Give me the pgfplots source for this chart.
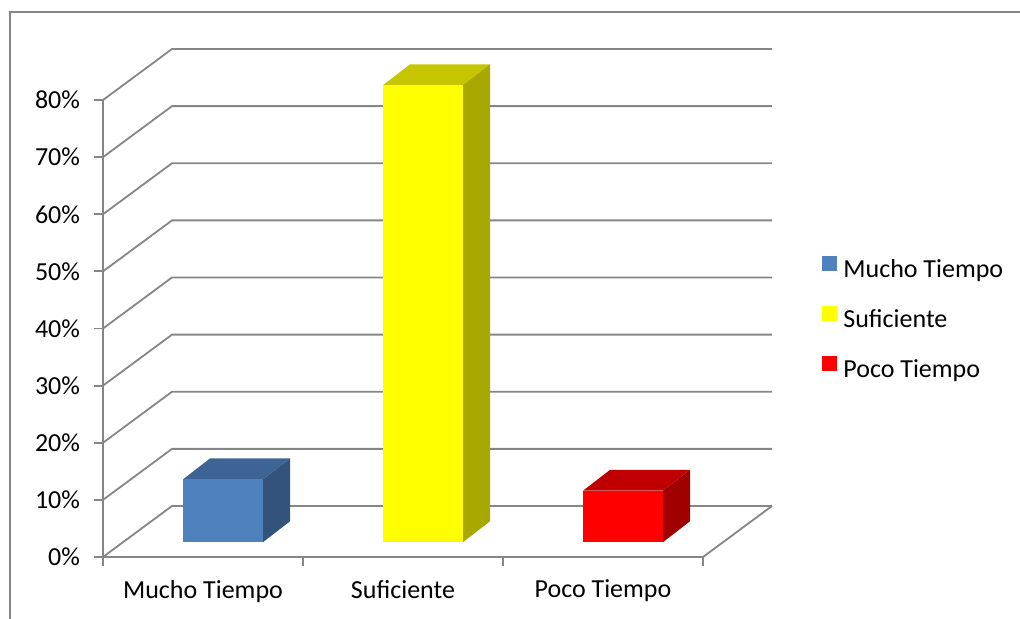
\documentclass[border=0pt]{standalone}
\usepackage{pgfplots}
\pgfplotsset{compat=1.18}
\usepackage{fontspec}
\setmainfont{Carlito}
\definecolor{gridgray}{RGB}{134,134,134}
\definecolor{bluefront}{RGB}{79,129,189}
\definecolor{bluetop}{RGB}{61,100,149}
\definecolor{blueside}{RGB}{49,83,124}
\definecolor{yelfront}{RGB}{255,255,0}
\definecolor{yeltop}{RGB}{198,198,0}
\definecolor{yelside}{RGB}{168,168,0}
\definecolor{redfront}{RGB}{255,0,0}
\definecolor{redtop}{RGB}{192,0,0}
\definecolor{redside}{RGB}{160,0,0}
% 3D bar: #1 category position, #2 value (%), #3 front, #4 top, #5 side colour
\newcommand{\threedbar}[5]{%
 \addplot[draw=none, fill=#4, forget plot] coordinates {({#1-0.1},{#2+2.6}) ({#1+0.3},{#2+2.6}) ({#1+0.435},{#2+6.25}) ({#1+0.035},{#2+6.25})};
 \addplot[draw=none, fill=#5, forget plot] coordinates {({#1+0.3},2.6) ({#1+0.435},6.25) ({#1+0.435},{#2+6.25}) ({#1+0.3},{#2+2.6})};
 \addplot[draw=none, fill=#3, forget plot] coordinates {({#1-0.1},2.6) ({#1+0.3},2.6) ({#1+0.3},{#2+2.6}) ({#1-0.1},{#2+2.6})};
}
\begin{document}
\begin{tikzpicture}[font=\fontsize{13bp}{16bp}\selectfont]
\clip (0,0) rectangle (510bp,309.5bp);
\path[use as bounding box] (0,0) rectangle (510bp,309.5bp);
\draw[gridgray, line width=1bp] (5bp,-10bp) -- (5bp,303.5bp) -- (530bp,303.5bp);
\begin{axis}[
 at={(51.5bp,31bp)}, anchor=south west,
 scale only axis, width=334.5bp, height=254bp,
 xmin=-0.5, xmax=2.845, ymin=0, ymax=88.93,
 clip=false,
 axis line style={draw=none},
 tick align=outside,
 major tick length=4.5bp,
 tick label style={font=\fontsize{13bp}{16bp}\selectfont, text=black},
 ytick={0,10,...,80},
 yticklabels={0\%,10\%,20\%,30\%,40\%,50\%,60\%,70\%,80\%},
 ytick pos=left,
 ytick style={gridgray, line width=0.9bp},
 yticklabel style={xshift=-3.5bp},
 xtick={0,1,2},
 xticklabels={Mucho Tiempo,Suficiente,Poco Tiempo},
 xtick pos=bottom,
 xtick style={draw=none},
 xticklabel style={yshift=-3.5bp},
 extra x ticks={-0.5,0.5,1.5,2.5},
 extra x tick labels={},
 extra x tick style={xtick style={draw=gridgray, line width=0.9bp}},
 legend style={at={(1.0747,0.4665)}, anchor=west, draw=none, fill=none, inner sep=0pt,
   row sep=11.25bp, font=\fontsize{13bp}{16bp}\selectfont,
   nodes={inner sep=0pt, text height=9.5bp, text depth=3bp},
   /tikz/every odd column/.append style={column sep=3bp}},
 legend cell align=left,
 legend image code/.code={\fill[#1] (0bp,0bp) rectangle (7.5bp,7.5bp);},
]
% walls and floor
\pgfplotsinvokeforeach{0,10,...,80}{
 \addplot[gridgray, line width=0.9bp, forget plot] coordinates {(-0.5,#1) (-0.155,{#1+8.93}) (2.845,{#1+8.93})};
}
\addplot[gridgray, line width=0.9bp, forget plot] coordinates {(-0.5,80) (-0.5,0) (2.5,0) (2.845,8.93)};
% bars
\threedbar{0}{11}{bluefront}{bluetop}{blueside}
\threedbar{1}{80}{yelfront}{yeltop}{yelside}
\threedbar{2}{9}{redfront}{redtop}{redside}
% legend
\addlegendimage{fill=bluefront, draw=none}
\addlegendentry{Mucho Tiempo}
\addlegendimage{fill=yelfront, draw=none}
\addlegendentry{Suficiente}
\addlegendimage{fill=redfront, draw=none}
\addlegendentry{Poco Tiempo}
\end{axis}
\end{tikzpicture}
\end{document}
